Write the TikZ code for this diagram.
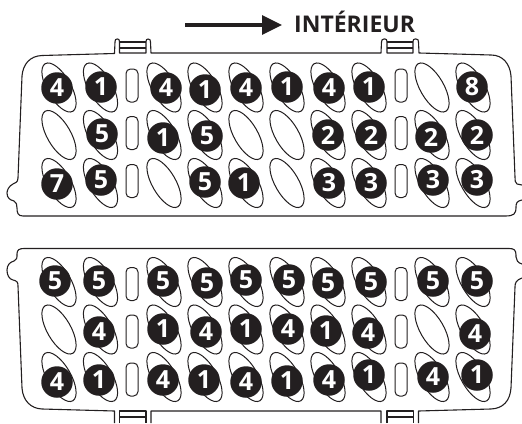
\documentclass[tikz,border=0pt]{standalone}
\usepackage{fontspec}
\setmainfont{Open Sans}
\usetikzlibrary{shapes.geometric,arrows.meta}
\definecolor{ink}{HTML}{231F20}
\tikzset{
  outline/.style={draw=ink,line width=1.1pt,line join=round},
  hole/.style={shape=ellipse,draw=ink,line width=1pt,fill=white,minimum width=23.5pt,minimum height=55pt,inner sep=0pt,rotate=30},
  slit/.style={draw=ink,line width=1pt,fill=white,rounded corners=4.5pt,minimum width=12pt,minimum height=33pt,inner sep=0pt,shape=rectangle},
  badge/.style={shape=circle,fill=ink,text=white,minimum size=31.5pt,inner sep=0pt,font=\fontsize{25}{25}\selectfont\bfseries},
}
\newcommand{\mybadges}[1]{\foreach \bx/\by/\bt in {#1}{\node[badge] (b\bx-\by) at (\bx,\by) {\bt};}}
\begin{document}
\begin{tikzpicture}[x=1pt,y=-1pt]
\useasboundingbox (0,0) rectangle (522,423);
% header
\coordinate (arrowstart) at (185,25);
\node[inner sep=0pt,anchor=base west,font=\fontsize{23}{23}\selectfont\bfseries,text=ink] (title) at (294,32.3) {INTÉRIEUR};
\coordinate (arrowend) at (282,25);
\draw[draw=ink,line width=3.2pt,-{Triangle[length=20pt,width=19pt]}] (arrowstart) -- (arrowend);
% top panel outline
\draw[outline] (522,185) -- (517,184) .. controls (515,183) and (515,180) .. (515,177) -- (511,76)
  .. controls (510,64) and (503,55) .. (491,55) -- (419,53) -- (418.5,42) .. controls (418.5,40) and (418,39) .. (416,39) -- (415,39) .. controls (413.5,39) and (413,40) .. (413,42) -- (413,53) -- (387,53) -- (387,42) .. controls (387,40) and (386.5,39) .. (385,39) -- (384,39) .. controls (382.5,39) and (381.5,40) .. (381.5,42) -- (381,53)
  -- (151,53) -- (150.5,42) .. controls (150.5,40) and (150,39) .. (148,39) -- (148,39) .. controls (146.5,39) and (146,40) .. (146,42) -- (146,53) -- (119.5,53) -- (119.5,42) .. controls (119.5,40) and (119,39) .. (117.5,39) -- (117,39) .. controls (115.5,39) and (115,40) .. (115,42) -- (114.5,53.5)
  -- (42,55.5) .. controls (30,56) and (23,64) .. (22,76) -- (18,178) .. controls (17.5,183) and (16,182) .. (13,184)
  .. controls (9,186) and (7,190) .. (7,193) .. controls (7,198) and (10,200) .. (14,201) .. controls (17,202) and (16.5,205) .. (17,208) .. controls (17,213) and (18,216) .. (23,216)
  -- (505,216) .. controls (514,216) and (516,214) .. (516,207) .. controls (516,203) and (517,201) .. (522,200);
\draw[outline] (387,42) -- (413,42) (387,48) -- (413,48) (119.5,42) -- (146,42) (119.5,48) -- (146,48);
% bottom panel outline
\draw[outline] (522,264) .. controls (518,263) and (516,260) .. (516,257) -- (516,255) .. controls (516,250) and (514,248.5) .. (509,248.5)
  -- (24,248.5) .. controls (19,248.5) and (17,250) .. (17,254) .. controls (17,258) and (17,260) .. (14,261)
  .. controls (10,262) and (7,265) .. (7,270) .. controls (7,275) and (9,279) .. (13,280) .. controls (17,281) and (18,282) .. (18,286)
  -- (22,388) .. controls (23,401) and (31,408.5) .. (42,409) -- (114.5,411) -- (114.5,423)
  (151,423) -- (151,411) -- (381,411) -- (381,423)
  (418.5,423) -- (418.5,411) -- (491,409) .. controls (503,408.5) and (510,401) .. (511,388) -- (515,287) .. controls (515,283) and (516,280) .. (522,278);
\draw[outline] (119.5,423) -- (119.5,411) -- (146,411) -- (146,423) (119.5,417) -- (146,417) (387,423) -- (387,411) -- (413.5,411) -- (413.5,423) (387,417) -- (413.5,417);
% holes
\foreach \px in {59,100.5,164,205,246,287,328,369,432,473}{
  \foreach \py in {87.5,135,183,282,329.5,377}{
    \node[hole] (h\px-\py) at (\px,\py) {};
  }
}
\foreach \py in {85.5,133,181,284,331.5,379.5}{
  \node[slit] (sa\py) at (132,\py) {};
  \node[slit] (sb\py) at (401,\py) {};
}
% badges top
\mybadges{57/88/4,101/87/1,166/88/4,205/90/1,246/88/4,287/87/1,329/88/4,369/87/1,472/87/8,
102/134/5,163/138/1,207/136/5,328/135/2,371/135/2,431/137/2,477/135/2,
57/184/7,101/180/5,205/182/5,244/183/1,329/183/3,371/183/3,433/180/3,477/180/3}
% badges bottom
\mybadges{55/281/5,99/281/5,163/281/5,207/283/5,246/280/5,289/280/5,328/283/5,371/282/5,433/281/5,477/281/5,
99/332/4,163/329/1,206/332/4,246/329/1,288/329/4,326/331/1,368/333/4,475/334/4,
57/382/4,99/380/1,163/380/4,204/380/1,246/382/4,287/381/1,329/380/4,369/375/1,433/377/4,477/375/1}
\end{tikzpicture}
\end{document}
